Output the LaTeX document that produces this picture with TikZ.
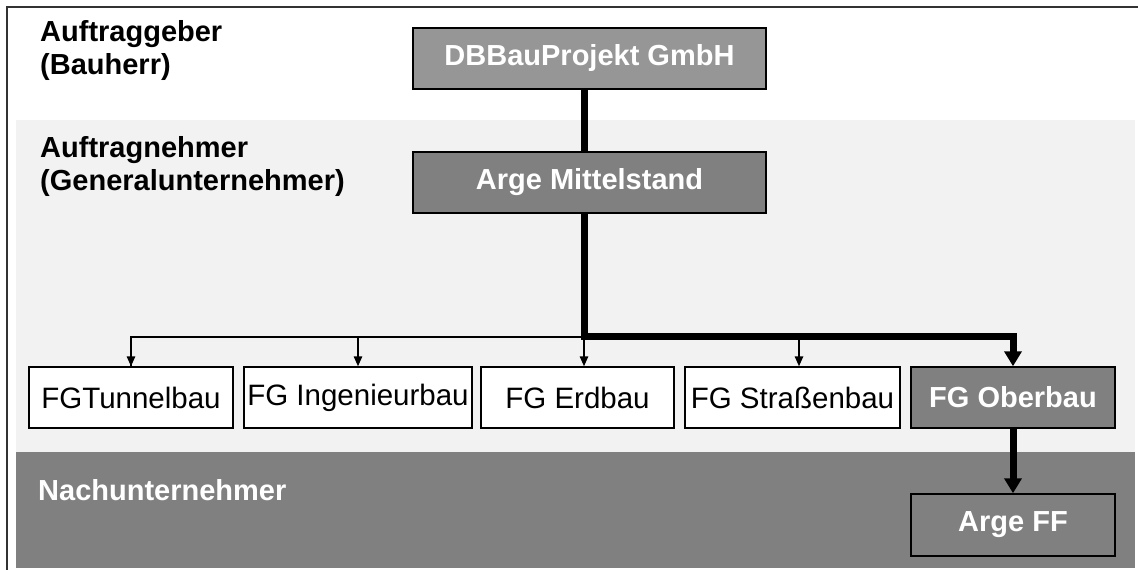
\documentclass[tikz,border=0pt]{standalone}
\usepackage{fontspec}
\setmainfont{Liberation Sans}
\usetikzlibrary{arrows.meta}
\definecolor{bandlight}{HTML}{F2F2F2}
\definecolor{banddark}{HTML}{808080}
\definecolor{boxtop}{HTML}{969696}
\definecolor{boxmid}{HTML}{808080}
\tikzset{
  lvl/.style={font=\fontsize{29}{33}\selectfont\bfseries, align=left, anchor=north west, inner sep=0pt},
  orgbox/.style={draw=black, line width=1.5pt, minimum height=61pt, inner sep=0pt,
                 font=\fontsize{29.5}{33}\selectfont},
  graybox/.style={orgbox, fill=#1, text=white, font=\fontsize{29}{33}\selectfont\bfseries},
  whitebox/.style={orgbox, fill=white, text=black},
  thick link/.style={line width=7pt, line join=miter},
  thin link/.style={line width=1.5pt},
  bigtip/.style={-{Triangle[width=17pt,length=15pt]}},
  smalltip/.style={-{Triangle[width=8.5pt,length=10pt]}}
}
\begin{document}
\begin{tikzpicture}[x=1pt, y=-1pt]
\useasboundingbox (0,0) rectangle (1138,570);
\fill[white] (0,0) rectangle (1138,570);
% bands
\fill[bandlight] (16,120) rectangle (1135,452);
\fill[banddark] (16,452) rectangle (1135,568);
% frame
\draw[line width=1.5pt, black!80] (7,570) -- (7,7) -- (1138,7);
% level labels
\node[lvl] (l1) at (40,20.5) {Auftraggeber\\(Bauherr)};
\node[lvl] (l2) at (40,136.5) {Auftragnehmer\\(Generalunternehmer)};
\node[lvl, text=white] (l3) at (38,479) {Nachunternehmer};
% boxes
\node[graybox=boxtop, minimum width=353pt] (db) at (589.5,58.5) {DBBauProjekt GmbH};
\node[graybox=boxmid, minimum width=353pt] (am) at (589.5,182.5) {Arge Mittelstand};
\node[whitebox, minimum width=204pt] (tun) at (131,397.5) {FGTunnelbau};
\node[whitebox, minimum width=228pt] (ing) at (358,397.5) {FG Ingenieurbau};
\node[whitebox, minimum width=193pt] (erd) at (577.5,397.5) {FG Erdbau};
\node[whitebox, minimum width=215pt] (str) at (792.5,397.5) {FG Straßenbau};
\node[graybox=boxmid, minimum width=204pt] (ob) at (1013,397.5) {FG Oberbau};
\node[graybox=boxmid, minimum width=204pt, minimum height=62pt] (ff) at (1013,525) {Arge FF};
% junction coordinates
\coordinate (sx) at (584,0);
\coordinate (j) at (584,337);
\coordinate (jt) at (584,336);
\coordinate (sj) at (799,336);
% connectors
\draw[thick link] (db.south -| sx) -- (am.north -| sx);
\draw[thin link] (j) -| (tun.north);
\draw[thin link, smalltip] (j -| ing.north) -- (ing.north);
\draw[thin link, smalltip] (j) -- (erd.north -| j);
\draw[thin link, smalltip] (sj) -- (str.north -| sj);
\draw[thin link, smalltip] (j -| tun.north) -- (tun.north);
\draw[thick link, bigtip] (am.south -| sx) -- (jt) -| (ob.north);
\draw[thick link, bigtip] (ob.south) -- (ff.north);
\end{tikzpicture}
\end{document}
